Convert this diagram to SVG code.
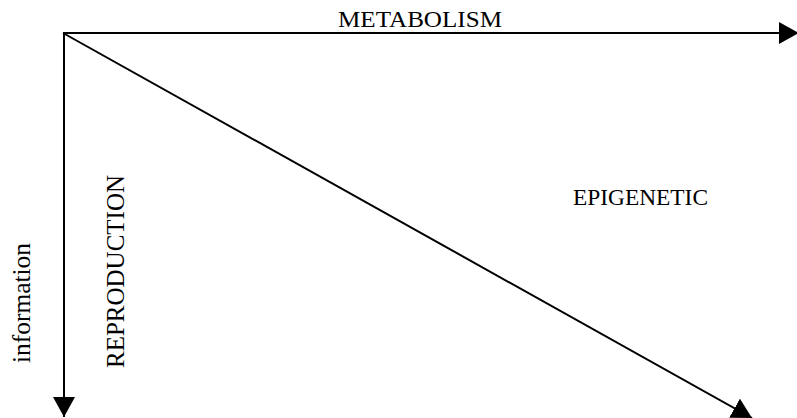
<svg xmlns="http://www.w3.org/2000/svg" width="797" height="418" viewBox="0 0 797 418">
<style>
.ln{stroke:#000;stroke-width:2;fill:none}
.t{font-family:"Liberation Serif","Times New Roman",serif;fill:#000}
</style>
<defs>
<marker id="ah" markerUnits="userSpaceOnUse" markerWidth="20" markerHeight="22" refX="20" refY="11" orient="auto" viewBox="0 0 20 22">
<path d="M0,0 L20,11 L0,22 Z" fill="#000"/>
</marker>
</defs>
<rect width="797" height="418" fill="#fff"/>
<g id="connectors">
<line class="ln" x1="63" y1="33" x2="799" y2="33" marker-end="url(#ah)"/>
<line class="ln" x1="64" y1="32" x2="64" y2="417" marker-end="url(#ah)"/>
<line class="ln" x1="63" y1="33" x2="752" y2="418" marker-end="url(#ah)"/>
</g>
<g id="metabolism"><text class="t" x="338" y="27" font-size="24" textLength="164" lengthAdjust="spacingAndGlyphs">METABOLISM</text></g>
<g id="epigenetic"><text class="t" x="573" y="205" font-size="24" textLength="135" lengthAdjust="spacingAndGlyphs">EPIGENETIC</text></g>
<g id="reproduction"><text class="t" font-size="25" transform="translate(124,368) rotate(-90)" textLength="193" lengthAdjust="spacingAndGlyphs">REPRODUCTION</text></g>
<g id="information"><text class="t" font-size="25" transform="translate(30,363) rotate(-90)" textLength="120" lengthAdjust="spacingAndGlyphs">information</text></g>
</svg>
